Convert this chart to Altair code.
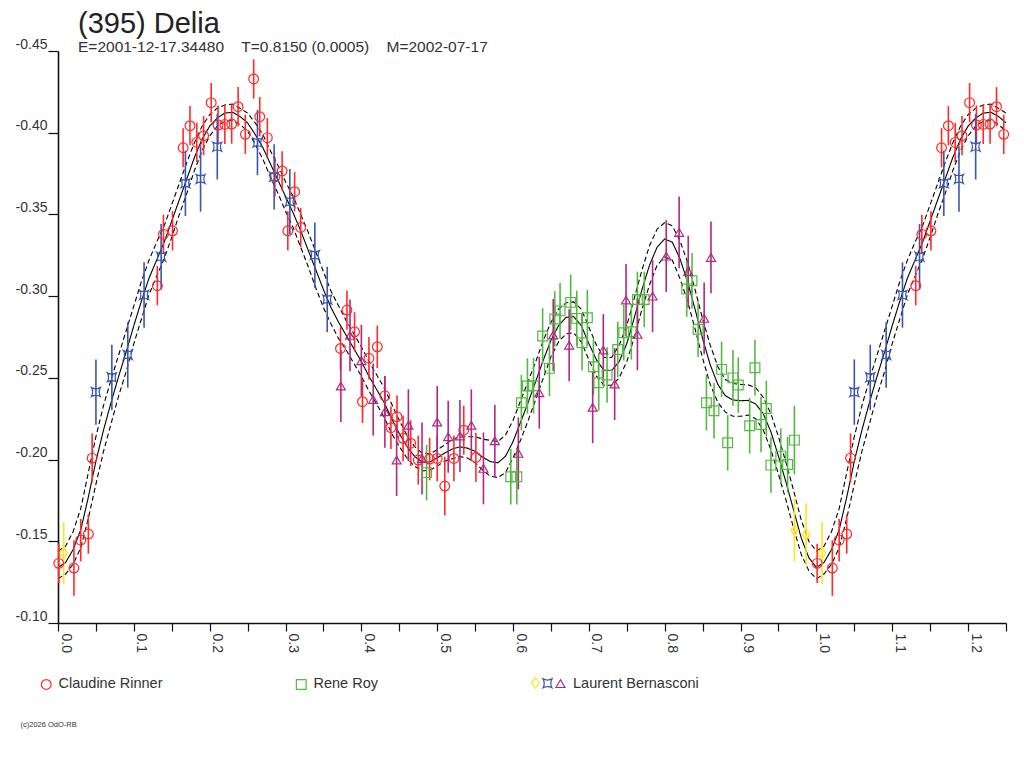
import altair as alt
import pandas as pd

# ---------------- data ----------------
# Claudine Rinner (red circles)
cr_phase = [0.001, 0.021, 0.030, 0.040, 0.045, 0.131, 0.139, 0.151, 0.165, 0.174,
            0.183, 0.192, 0.202, 0.211, 0.220, 0.229, 0.2375, 0.247, 0.258, 0.266,
            0.276, 0.286, 0.2955, 0.303, 0.312, 0.320, 0.3725, 0.381, 0.391, 0.4015,
            0.410, 0.421, 0.431, 0.439, 0.447, 0.455, 0.465, 0.475, 0.490, 0.500,
            0.510, 0.522, 0.535, 0.551]
cr_mag = [-0.1365, -0.1336, -0.1507, -0.1544, -0.2009, -0.3064, -0.3378, -0.3400, -0.3908, -0.4043,
          -0.3941, -0.3982, -0.4184, -0.4047, -0.4051, -0.4053, -0.4159, -0.3990, -0.4329, -0.4098,
          -0.3970, -0.3730, -0.3766, -0.3400, -0.3639, -0.3420, -0.2680, -0.2915, -0.2782, -0.2354,
          -0.2620, -0.2690, -0.2390, -0.2195, -0.2262, -0.2130, -0.2100, -0.1997, -0.2003, -0.2007,
          -0.1838, -0.2007, -0.2180, -0.2013]
cr_err = [0.012, 0.017, 0.013, 0.012, 0.015, 0.012, 0.012, 0.012, 0.012, 0.012,
          0.012, 0.012, 0.012, 0.012, 0.012, 0.012, 0.012, 0.012, 0.012, 0.012,
          0.012, 0.012, 0.012, 0.012, 0.012, 0.012, 0.013, 0.012, 0.012, 0.013,
          0.013, 0.013, 0.012, 0.013, 0.013, 0.014, 0.014, 0.015, 0.013, 0.014,
          0.018, 0.014, 0.015, 0.015]

# Rene Roy (green squares)
rr_phase = [0.486, 0.597, 0.605, 0.611, 0.619, 0.627, 0.639, 0.648, 0.655, 0.662,
            0.676, 0.684, 0.691, 0.698, 0.706, 0.713, 0.724, 0.738, 0.746, 0.756,
            0.764, 0.773, 0.829, 0.836, 0.844, 0.855, 0.865, 0.875, 0.883, 0.890,
            0.897, 0.912, 0.919, 0.927, 0.934, 0.940, 0.953, 0.962, 0.971]
rr_mag = [-0.1920, -0.1895, -0.1895, -0.2348, -0.2450, -0.2452, -0.2756, -0.2558, -0.2860, -0.2910,
          -0.2962, -0.2864, -0.2715, -0.2868, -0.2568, -0.2470, -0.2517, -0.2674, -0.2776, -0.2782,
          -0.2980, -0.2980, -0.3044, -0.3094, -0.2797, -0.2348, -0.2299, -0.2552, -0.2103, -0.2500,
          -0.2456, -0.2207, -0.2562, -0.2215, -0.2313, -0.1966, -0.2021, -0.1970, -0.2119]
rr_err = [0.017] * 38 + [0.021]

# Laurent Bernasconi, three sessions
lb1_phase = [0.0075, 0.971, 0.9864]
lb1_mag = [-0.1428, -0.1568, -0.1542]
lb1_err = [0.019, 0.019, 0.019]

lb2_phase = [0.050, 0.071, 0.092, 0.1135, 0.136, 0.168, 0.188, 0.210, 0.263, 0.285,
             0.3057, 0.3387, 0.355]
lb2_mag = [-0.2413, -0.2503, -0.2640, -0.3007, -0.3241, -0.3690, -0.3717, -0.3914, -0.3940, -0.3730,
           -0.3578, -0.3251, -0.2980]
lb2_err = [0.020] * 13

lb3_phase = [0.373, 0.385, 0.400, 0.4156, 0.431, 0.4465, 0.462, 0.480, 0.500, 0.5145,
             0.530, 0.545, 0.561, 0.576, 0.607, 0.6346, 0.653, 0.674, 0.705, 0.719,
             0.734, 0.749, 0.764, 0.784, 0.802, 0.819, 0.831, 0.852, 0.861]
lb3_mag = [-0.2450, -0.2760, -0.2605, -0.2368, -0.2292, -0.1997, -0.2210, -0.2007, -0.2230, -0.2140,
           -0.2144, -0.2210, -0.1946, -0.2115, -0.2038, -0.2409, -0.2762, -0.2700, -0.2320, -0.2670,
           -0.2462, -0.2976, -0.2766, -0.3000, -0.3245, -0.3390, -0.3150, -0.2864, -0.3237]
lb3_err = [0.022] * 29

# Fourier fit (solid) and its envelope (dashed), phase 0.00 .. 1.00 step 0.01
fit_phase = [round(i / 100, 2) for i in range(101)]
fit_mag = [-0.134, -0.137, -0.145, -0.157, -0.177, -0.199, -0.218, -0.235, -0.251, -0.266,
           -0.282, -0.297, -0.311, -0.322, -0.333, -0.346, -0.359, -0.372, -0.385, -0.396,
           -0.404, -0.409, -0.412, -0.4125, -0.410, -0.406, -0.399, -0.391, -0.381, -0.371,
           -0.361, -0.351, -0.340, -0.328, -0.316, -0.304, -0.293, -0.284, -0.276, -0.268,
           -0.260, -0.251, -0.243, -0.235, -0.225, -0.216, -0.208, -0.202, -0.1985, -0.1985,
           -0.201, -0.204, -0.2065, -0.2078, -0.207, -0.205, -0.2015, -0.1988, -0.198, -0.202,
           -0.211, -0.223, -0.235, -0.248, -0.261, -0.273, -0.282, -0.287, -0.2875, -0.282,
           -0.271, -0.261, -0.2545, -0.2545, -0.260, -0.271, -0.287, -0.304, -0.319, -0.330,
           -0.335, -0.333, -0.323, -0.309, -0.292, -0.274, -0.258, -0.246, -0.239, -0.2365,
           -0.236, -0.2362, -0.234, -0.228, -0.217, -0.202, -0.186, -0.169, -0.152, -0.140,
           -0.134]
fit_upper = [-0.144, -0.147, -0.156, -0.170, -0.192, -0.214, -0.233, -0.249, -0.264, -0.279,
             -0.294, -0.309, -0.322, -0.333, -0.343, -0.356, -0.369, -0.382, -0.394, -0.404,
             -0.411, -0.415, -0.417, -0.4175, -0.415, -0.412, -0.406, -0.399, -0.389, -0.380,
             -0.370, -0.361, -0.350, -0.339, -0.327, -0.315, -0.303, -0.294, -0.285, -0.277,
             -0.269, -0.260, -0.252, -0.244, -0.234, -0.224, -0.215, -0.208, -0.204, -0.2035,
             -0.206, -0.209, -0.2125, -0.2138, -0.214, -0.214, -0.2125, -0.2118, -0.211, -0.215,
             -0.224, -0.236, -0.248, -0.260, -0.273, -0.284, -0.292, -0.296, -0.2965, -0.292,
             -0.281, -0.270, -0.2625, -0.2625, -0.270, -0.282, -0.299, -0.316, -0.331, -0.341,
             -0.345, -0.343, -0.334, -0.321, -0.304, -0.286, -0.270, -0.257, -0.249, -0.2465,
             -0.246, -0.2457, -0.244, -0.238, -0.228, -0.214, -0.198, -0.181, -0.163, -0.150,
             -0.144]
fit_lower = [-0.127, -0.130, -0.136, -0.146, -0.164, -0.185, -0.205, -0.222, -0.239, -0.254,
             -0.271, -0.286, -0.301, -0.312, -0.323, -0.336, -0.350, -0.363, -0.377, -0.389,
             -0.398, -0.404, -0.407, -0.4075, -0.405, -0.401, -0.393, -0.384, -0.373, -0.363,
             -0.352, -0.342, -0.330, -0.318, -0.305, -0.293, -0.283, -0.274, -0.267, -0.259,
             -0.251, -0.242, -0.234, -0.226, -0.216, -0.208, -0.201, -0.196, -0.193, -0.1935,
             -0.196, -0.199, -0.2005, -0.2018, -0.201, -0.198, -0.1935, -0.1898, -0.189, -0.192,
             -0.201, -0.212, -0.224, -0.237, -0.250, -0.263, -0.272, -0.277, -0.2775, -0.272,
             -0.261, -0.251, -0.2455, -0.2455, -0.250, -0.260, -0.275, -0.292, -0.307, -0.319,
             -0.324, -0.322, -0.311, -0.297, -0.280, -0.262, -0.246, -0.235, -0.229, -0.2265,
             -0.2265, -0.2272, -0.225, -0.218, -0.206, -0.191, -0.175, -0.158, -0.142, -0.132,
             -0.127]

x_ticks = [0.0, 0.05, 0.1, 0.15, 0.2, 0.25, 0.3, 0.35, 0.4, 0.45, 0.5, 0.55, 0.6,
           0.65, 0.7, 0.75, 0.8, 0.85, 0.9, 0.95, 1.0, 1.05, 1.1, 1.15, 1.2, 1.25]
y_ticks = [-0.45, -0.40, -0.35, -0.30, -0.25, -0.20, -0.15, -0.10]

FONT = "Liberation Sans"
TXT = "#333333"


# ---------------- build tables (phase 0..0.25 repeated after 1.0) ----------------
def obs_rows(phases, mags, errs, series):
    rows = []
    for p, m, e in zip(phases, mags, errs):
        rows.append({"phase": p, "mag": m, "err": e, "series": series})
        if p < 0.25:
            rows.append({"phase": p + 1.0, "mag": m, "err": e, "series": series})
    return rows


dfA = pd.DataFrame(obs_rows(cr_phase, cr_mag, cr_err, "Claudine Rinner")
                   + obs_rows(rr_phase, rr_mag, rr_err, "Rene Roy"))
dfB = pd.DataFrame(obs_rows(lb1_phase, lb1_mag, lb1_err, "LB1")
                   + obs_rows(lb2_phase, lb2_mag, lb2_err, "LB2")
                   + obs_rows(lb3_phase, lb3_mag, lb3_err, "LB3"))

fit_rows = []
for kind, vals in (("fit", fit_mag), ("upper", fit_upper), ("lower", fit_lower)):
    for p, m in zip(fit_phase, vals):
        fit_rows.append({"phase": p, "mag": m, "kind": kind})
    for p, m in zip(fit_phase[1:26], vals[1:26]):
        fit_rows.append({"phase": round(p + 1.0, 2), "mag": m, "kind": kind})
dfF = pd.DataFrame(fit_rows)

# ---------------- scales / axes ----------------
xs = alt.Scale(domain=[0, 1.25], nice=False, zero=False)
ys = alt.Scale(domain=[-0.45, -0.10], reverse=True, nice=False, zero=False)

x_axis = alt.Axis(
    values=x_ticks,
    labelExpr="(round(datum.value*100) % 10 == 0) ? format(datum.value, '.1f') : ''",
    labelAngle=90, labelAlign="left", labelBaseline="bottom", labelPadding=2,
    labelFontSize=14, labelColor=TXT, labelFont=FONT, labelOverlap=False, labelFlush=False,
    tickSize=8, tickColor="#111111", tickWidth=1.2,
    domainColor="#111111", domainWidth=1.6, grid=False,
    title="(c)2026 OdO-RB", titleX=-38, titleY=101, titleAlign="left",
    titleBaseline="middle", titleFontSize=7.5, titleFontWeight="normal",
    titleColor=TXT, titleFont=FONT, titleAngle=0,
)
y_axis = alt.Axis(
    values=y_ticks,
    labelExpr="replace(format(datum.value, '.2f'), '\u2212', '-')",
    labelBaseline="alphabetic", labelOffset=-3, labelPadding=1, labelAlign="right",
    labelFontSize=14, labelColor=TXT, labelFont=FONT,
    tickSize=10, tickColor="#111111", tickWidth=1.2,
    domainColor="#111111", domainWidth=1.6, grid=False, title=None,
)

X = alt.X("phase:Q", scale=xs, axis=x_axis)

# ---------------- fit lines ----------------
lines = alt.Chart(dfF).mark_line(color="black", strokeWidth=1.1, clip=True).encode(
    x=X,
    y=alt.Y("mag:Q", scale=ys, axis=y_axis),
    detail="kind:N",
    strokeDash=alt.StrokeDash("kind:N", scale=alt.Scale(domain=["fit", "upper", "lower"],
                                                          range=[[1, 0], [5, 3], [5, 3]]),
                              legend=None),
)

# ---------------- observers A: Rinner, Roy ----------------
colA = alt.Scale(domain=["Claudine Rinner", "Rene Roy"], range=["#FF2A2A", "#55B843"])
shpA = alt.Scale(domain=["Claudine Rinner", "Rene Roy"], range=["circle", "square"])
legA = alt.Legend(orient="none", legendX=-19, legendY=626, direction="horizontal", title=None,
                  labelFontSize=14.5, labelColor=TXT, labelFont=FONT, labelOffset=5,
                  columnPadding=130, symbolStrokeWidth=1.2, symbolSize=95)

baseA = alt.Chart(dfA).transform_calculate(lo="datum.mag - datum.err", hi="datum.mag + datum.err")
errA = baseA.mark_rule(strokeWidth=1.6).encode(
    x=X, y=alt.Y("lo:Q", scale=ys), y2="hi:Q",
    stroke=alt.Stroke("series:N", scale=colA, legend=None),
)
ptsA = baseA.mark_point(filled=False, strokeWidth=1.2, size=95, opacity=1).encode(
    x=X, y=alt.Y("mag:Q", scale=ys),
    color=alt.Color("series:N", scale=colA, legend=legA),
    shape=alt.Shape("series:N", scale=shpA, legend=legA),
)

# ---------------- observer B: Bernasconi (3 sessions) ----------------
colB = alt.Scale(domain=["LB1", "LB2", "LB3"], range=["#FFE414", "#3A56B0", "#B3287F"])
shpB = alt.Scale(domain=["LB1", "LB2", "LB3"],
                 range=["M0,-1.2L0.85,0L0,1.2L-0.85,0Z",
                        "M-1,-1Q0,-0.45 1,-1Q0.45,0 1,1Q0,0.45 -1,1Q-0.45,0 -1,-1Z",
                        "triangle-up"])
legB = alt.Legend(orient="none", legendX=472, legendY=626, direction="horizontal",
                  title="Laurent Bernasconi", titleOrient="right", titleFontSize=14.5,
                  titleFontWeight="normal", titleColor=TXT, titleFont=FONT, titlePadding=6,
                  titleBaseline="middle",
                  labelExpr="''", labelOffset=0, columnPadding=-4,
                  symbolStrokeWidth=1.2, symbolSize=80)

baseB = alt.Chart(dfB).transform_calculate(lo="datum.mag - datum.err", hi="datum.mag + datum.err")
errB = baseB.mark_rule(strokeWidth=1.6).encode(
    x=X, y=alt.Y("lo:Q", scale=ys), y2="hi:Q",
    stroke=alt.Stroke("series:N", scale=colB, legend=None),
)
ptsB = baseB.mark_point(filled=False, strokeWidth=1.2, size=80, opacity=1).encode(
    x=X, y=alt.Y("mag:Q", scale=ys),
    color=alt.Color("series:N", scale=colB, legend=legB),
    shape=alt.Shape("series:N", scale=shpB, legend=legB),
)

chart = alt.layer(lines, errA, errB, ptsA, ptsB).resolve_scale(
    color="independent", shape="independent", stroke="independent"
).resolve_legend(
    color="independent", shape="independent"
).properties(
    width=948, height=572,
    padding={"left": 50, "top": 43, "right": 10, "bottom": 137},
    autosize=alt.AutoSizeParams(type="none"),
    background="white",
    title=alt.TitleParams(
        text="(395) Delia",
        subtitle="E=2001-12-17.34480\u00a0\u00a0\u00a0\u00a0T=0.8150 (0.0005)\u00a0\u00a0\u00a0\u00a0M=2002-07-17",
        anchor="start", frame="group", dx=20, offset=-18, fontSize=29, font=FONT,
        fontWeight="normal", color="#222222", subtitleFontSize=15.5, subtitleFont=FONT,
        subtitleColor=TXT, subtitlePadding=1,
    ),
).configure_view(stroke=None)

chart.save("out.html", embed_options={"renderer": "svg", "actions": False})
